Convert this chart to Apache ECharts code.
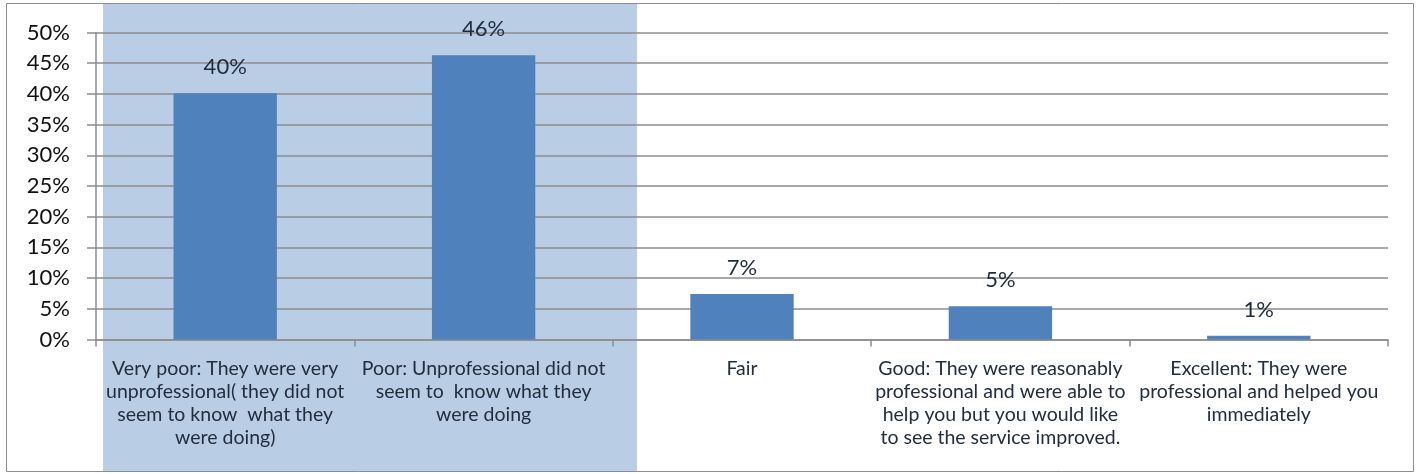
<!DOCTYPE html>
<html>
<head>
<meta charset="utf-8">
<script src="https://cdn.jsdelivr.net/npm/echarts@6/dist/echarts.min.js"></script>
<style>
  html, body { margin: 0; padding: 0; background: #fff; }
  #chart { width: 1419px; height: 474px; }
</style>
</head>
<body>
<div id="chart"></div>
<script>
// Survey: how professional was the service?
const categories = [
  'Very poor: They were very\nunprofessional( they did not\nseem to know  what they\nwere doing)',
  'Poor: Unprofessional did not\nseem to  know what they\nwere doing',
  'Fair',
  'Good: They were reasonably\nprofessional and were able to\nhelp you but you would like\nto see the service improved.',
  'Excellent: They were\nprofessional and helped you\nimmediately'
];
const shares = [40.1, 46.3, 7.4, 5.4, 0.6];   // percent of respondents
const yTicks = { min: 0, max: 50, step: 5 };

const chart = echarts.init(document.getElementById('chart'), null, { renderer: 'canvas' });

const font = 'Lato, "Liberation Sans", Arial, sans-serif';
const gridColor = '#8c8c8c';

chart.setOption({
  animation: false,
  backgroundColor: '#ffffff',
  graphic: [
    // highlight band behind the two negative answers
    {
      type: 'rect', z: -100, silent: true,
      shape: { x: 103, y: 3.5, width: 534, height: 468 },
      style: { fill: '#B9CDE5' }
    },
    // chart frame
    {
      type: 'rect', z: 100, silent: true,
      shape: { x: 6.5, y: 3.5, width: 1407, height: 468 },
      style: { fill: 'none', stroke: '#8e8e8e', lineWidth: 1 }
    }
  ],
  grid: { left: 96, right: 31, top: 32.5, bottom: 134.5, containLabel: false },
  xAxis: {
    type: 'category',
    data: categories,
    axisLine: { show: true, lineStyle: { color: gridColor, width: 1.5 } },
    axisTick: { show: true, alignWithLabel: false, length: 7, lineStyle: { color: gridColor, width: 1.5 } },
    axisLabel: {
      interval: 0,
      margin: 18,
      fontFamily: font,
      fontSize: 19.5,
      lineHeight: 23,
      color: '#222e3e',
      align: 'center',
      verticalAlign: 'top'
    },
    splitLine: { show: false }
  },
  yAxis: {
    type: 'value',
    min: yTicks.min,
    max: yTicks.max,
    interval: yTicks.step,
    axisLine: { show: true, lineStyle: { color: gridColor, width: 1.5 } },
    axisTick: { show: true, length: 9, lineStyle: { color: gridColor, width: 1.5 } },
    axisLabel: {
      formatter: '{value}%',
      margin: 26,
      fontFamily: font,
      fontSize: 22,
      color: '#111111'
    },
    splitLine: { show: true, lineStyle: { color: gridColor, width: 1.5 } }
  },
  series: [{
    type: 'bar',
    data: shares,
    barCategoryGap: '60%',
    itemStyle: { color: '#4F81BD' },
    label: {
      show: true,
      position: 'top',
      distance: 15,
      formatter: p => Math.round(p.value) + '%',
      fontFamily: font,
      fontSize: 22,
      color: '#1f2a3c'
    }
  }]
});
</script>
</body>
</html>
